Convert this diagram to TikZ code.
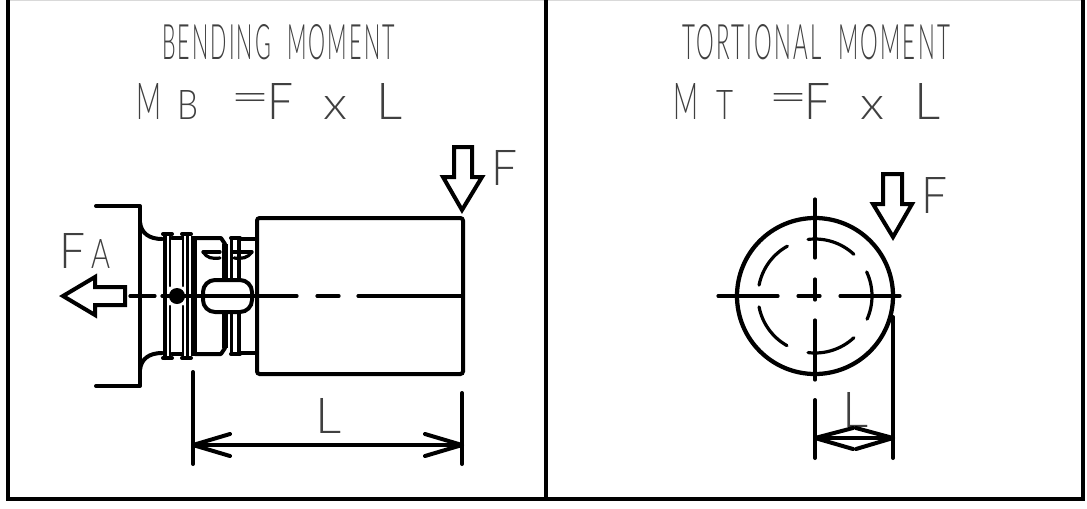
\documentclass[tikz,border=0pt]{standalone}
\usepackage{fontspec}
\usepackage{graphicx}
\setmainfont{Lato Light}
\usetikzlibrary{calc}
\newdimen\pxu \pxu=0.75pt
\newcommand{\fitbox}[3]{\resizebox{#1\pxu}{#2\pxu}{#3}}
\newcommand{\spaced}[1]{\addfontfeature{LetterSpace=10}#1}
\tikzset{
  x=0.75pt,y=-0.75pt,
  lbl/.style={inner sep=0pt,outer sep=0pt,anchor=south west,text=black!75},
  frameline/.style={line width=3pt,black},
  main/.style={line width=3pt,black,line cap=round,line join=round},
  mid/.style={line width=2.4pt,black,line cap=round,line join=round},
  slim/.style={line width=1.7pt,black,line cap=round,line join=round},
  forcearrow/.style={line width=3pt,black,line join=miter,fill=white},
  shapebox/.style={draw,line width=3pt,inner sep=0pt,outer sep=0pt,rounded corners=2pt},
}
\begin{document}
\begin{tikzpicture}
\useasboundingbox (0,0) rectangle (1087,508);
% frame
\coordinate (tl) at (8,0); \coordinate (bl) at (8,499);
\coordinate (tr) at (1083,0); \coordinate (br) at (1083,499);
\coordinate (mt) at (546,0); \coordinate (mb) at (546,499);
\draw[black!15,line width=0.8pt] (tl) -- (tr);
\draw[frameline] (tl) -- (bl) -- (br) -- (tr);
\draw[line width=2.4pt] (mt) -- (mb);
% titles
\node[lbl] (t1) at (162,60) {\fitbox{233}{35}{\spaced{BENDING\hspace{0.75em}MOMENT}}};
\node[lbl] (t2) at (682,60) {\fitbox{268}{35}{\spaced{TORTIONAL\hspace{0.75em}MOMENT}}};
% left formula
\node[lbl] (m1) at (136,119) {\fitbox{25}{36}{M}};
\node[lbl] (b1) at (177,119) {\fitbox{21}{29}{B}};
\node[lbl] (e1) at (230,111) {\fitbox{40}{18}{=}};
\node[lbl] (f1) at (267,119) {\fitbox{26}{36}{F}};
\node[lbl] (x1) at (323,119) {\fitbox{24}{23}{x}};
\node[lbl] (l1) at (376,119) {\fitbox{26}{36}{L}};
% right formula
\node[lbl] (m2) at (673,119) {\fitbox{25}{36}{M}};
\node[lbl] (b2) at (716,119) {\fitbox{17}{29}{T}};
\node[lbl] (e2) at (768,111) {\fitbox{40}{18}{=}};
\node[lbl] (f2) at (804,119) {\fitbox{26}{36}{F}};
\node[lbl] (x2) at (860,119) {\fitbox{24}{23}{x}};
\node[lbl] (l2) at (914,119) {\fitbox{26}{36}{L}};
% force labels
\node[lbl] (fa1) at (59,268) {\fitbox{26}{35}{F}};
\node[lbl] (fa2) at (91,268) {\fitbox{19}{29}{A}};
\node[lbl] (f3) at (491,185) {\fitbox{26}{35}{F}};
\node[lbl] (f4) at (921,213) {\fitbox{26}{36}{F}};
\node[lbl] (ll) at (315,433) {\fitbox{26}{35}{L}};
\node[lbl] (lr) at (842,427) {\fitbox{26}{35}{L}};
% body
\node[shapebox,minimum width=154.5pt,minimum height=117pt] (body) at (360,296) {};
% shaft, mirrored about the axis
\foreach \s in {1,-1}{
\begin{scope}[shift={(0,296)},yscale=\s]
  \draw[main] (96,-90) -- (140,-90) -- (140,0);
  \draw[main] (140,-74) .. controls (141,-63) and (149,-57) .. (162,-57);
  \draw[main] (163,-62) -- (172,-62);
  \draw[main] (182,-62) -- (191,-62);
  \draw[main] (172,-58) -- (182,-58);
  \draw[main] (195,-58) -- (221,-58) -- (225,-52);
  \draw[line width=4.5pt,black] (225,-52) -- (225,-16);
  \draw[main] (231,-58) -- (240,-58);
  \draw[main] (240,-57) -- (257,-57);
  \draw[main] (165,-62) -- (165,0);
  \draw[slim] (170,-62) -- (170,-10);
  \draw[slim] (183,-62) -- (183,-10);
  \draw[slim] (187.5,-62) -- (187.5,0);
  \draw[line width=4.5pt,black] (193.5,-60) -- (193.5,0);
  \draw[mid] (231.5,-58) -- (231.5,-16);
  \draw[main] (239,-58) -- (239,-16);
\end{scope}}
% snap ring
\coordinate (sa) at (203,252); \coordinate (sb) at (220,252);
\coordinate (sc) at (252,252); \coordinate (sd) at (233,252);
\draw[mid] (sa) -- (sb);
\draw[mid] (sa) .. controls (207,258) and (212,259) .. (220,258);
\draw[mid] (sc) -- (sd);
\draw[mid] (sc) .. controls (248,258) and (242,259) .. (234,258);
% key
\node[draw,line width=3pt,fill=white,rounded corners=9pt,minimum width=36.75pt,minimum height=24pt,inner sep=0pt] (key) at (227.5,296) {};
% ball
\node[circle,fill=black,minimum size=12pt,inner sep=0pt] (ball) at (177,296) {};
% axis
\coordinate (a0) at (130,296); \coordinate (a1) at (155,296);
\coordinate (a2) at (162,296); \coordinate (a3) at (297,296);
\coordinate (a4) at (317,296); \coordinate (a5) at (339,296);
\coordinate (a6) at (358,296); \coordinate (a7) at (463,296);
\draw[mid] (a0) -- (a1);
\draw[mid] (a2) -- (a3);
\draw[mid] (a4) -- (a5);
\draw[mid] (a6) -- (a7);
% force arrows
\draw[forcearrow] (63,296) -- (95,277) -- (95,287) -- (125,287) -- (125,305) -- (95,305) -- (95,315) -- cycle;
\draw[forcearrow] (454,147) -- (472,147) -- (472,177) -- (482,177) -- (462,210) -- (443,177) -- (454,177) -- cycle;
\draw[forcearrow] (883,174) -- (902,174) -- (902,204) -- (912,204) -- (893,237) -- (873,204) -- (883,204) -- cycle;
% left dimension
\coordinate (da) at (193,372); \coordinate (db) at (193,464);
\coordinate (dc) at (462,393); \coordinate (dd) at (462,464);
\coordinate (de) at (193,445); \coordinate (df) at (462,445);
\draw[main] (da) -- (db);
\draw[main] (dc) -- (dd);
\draw[main] (de) -- (df);
\draw[main] (230,434) -- (de) -- (230,456);
\draw[main] (425,434) -- (df) -- (425,456);
% disc
\node[circle,draw,line width=3.2pt,minimum size=117pt,inner sep=0pt] (disc) at (815,296) {};
\foreach \a/\b in {97/47,25/-24,-47/-97,240.5/191,169/119}{
  \draw[mid] ([shift={(\a:42.75pt)}]disc.center) arc[start angle=\a,end angle=\b,radius=42.75pt];
}
\coordinate (ch0) at (718,296); \coordinate (ch1) at (778,296);
\coordinate (ch2) at (798,296); \coordinate (ch3) at (820,296);
\coordinate (ch4) at (840,296); \coordinate (ch5) at (900,296);
\coordinate (cv0) at (815,199); \coordinate (cv1) at (815,258);
\coordinate (cv2) at (815,279); \coordinate (cv3) at (815,300);
\coordinate (cv4) at (815,320); \coordinate (cv5) at (815,380);
\draw[mid] (ch0) -- (ch1); \draw[mid] (ch2) -- (ch3); \draw[mid] (ch4) -- (ch5);
\draw[mid] (cv0) -- (cv1); \draw[mid] (cv2) -- (cv3); \draw[mid] (cv4) -- (cv5);
% right dimension
\coordinate (ra) at (815,400); \coordinate (rb) at (815,458);
\coordinate (rc) at (893,317); \coordinate (rd) at (893,458);
\coordinate (re) at (815,438); \coordinate (rf) at (893,438);
\draw[main] (ra) -- (rb);
\draw[main] (rc) -- (rd);
\draw[main] (re) -- (rf);
\draw[main] (853,428) -- (re) -- (853,449);
\draw[main] (856,428) -- (rf) -- (856,449);
\end{tikzpicture}
\end{document}
